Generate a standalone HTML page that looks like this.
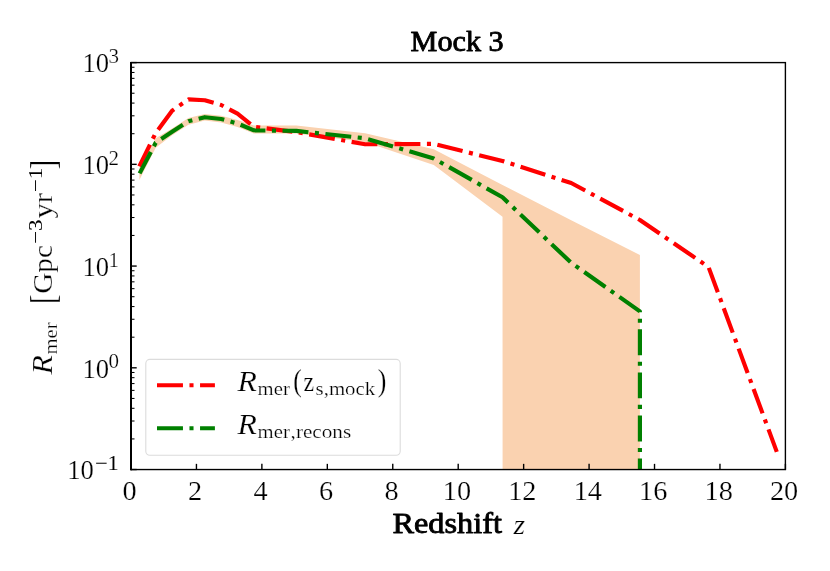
<!DOCTYPE html>
<html><head><meta charset="utf-8"><title>Mock 3</title>
<style>html,body{margin:0;padding:0;background:#fff;}svg{display:block;font-family:"Liberation Serif", serif;will-change:transform;}text{fill:#000;}text.t{stroke:#fff;stroke-width:0.24px;}</style></head><body>
<svg width="830" height="571" viewBox="0 0 830 571">
<rect x="0" y="0" width="830" height="571" fill="#ffffff"/>
<defs><clipPath id="ax"><rect x="131.0" y="62.6" width="654.4" height="406.95"/></clipPath></defs>
<g clip-path="url(#ax)">
<polygon points="139.40,168.00 155.70,138.30 172.10,128.50 188.45,118.00 204.80,113.90 221.15,115.70 237.50,120.00 253.90,125.60 296.40,125.60 365.10,133.30 433.80,149.20 502.50,185.00 571.20,220.30 639.90,255.00 639.90,480.00 502.60,480.00 502.50,216.70 433.80,165.00 365.10,142.00 296.40,133.60 253.90,133.40 237.50,126.90 221.15,122.40 204.80,120.60 188.45,124.70 172.10,135.20 155.70,147.80 139.40,180.00" fill="#fad2b0"/>
<polyline points="139.30,166.30 155.70,133.00 172.10,110.70 188.45,99.40 204.80,100.20 221.15,105.00 237.50,113.70 253.90,126.80 296.40,132.10 365.10,144.30 433.80,143.90 502.50,161.00 571.20,183.00 639.90,220.00 708.50,267.00 776.80,451.90" fill="none" stroke="#ff0000" stroke-width="4.15" stroke-dasharray="25.95 6.52 4.06 6.52" stroke-dashoffset="1.8" stroke-linejoin="round"/>
<polyline points="139.60,173.40 155.70,142.80 172.10,131.80 188.45,121.30 204.80,117.20 221.15,119.00 237.50,123.50 253.90,130.30 296.40,130.90 365.10,138.30 433.80,158.50 502.50,197.30 571.20,262.80 639.90,311.40 639.90,480.00" fill="none" stroke="#008000" stroke-width="4.15" stroke-dasharray="25.95 6.52 4.06 6.52" stroke-dashoffset="1.8" stroke-linejoin="round"/>
</g>
<line x1="131.00" y1="469.55" x2="131.00" y2="463.85" stroke="#000" stroke-width="1.39"/><line x1="196.44" y1="469.55" x2="196.44" y2="463.85" stroke="#000" stroke-width="1.39"/><line x1="261.88" y1="469.55" x2="261.88" y2="463.85" stroke="#000" stroke-width="1.39"/><line x1="327.32" y1="469.55" x2="327.32" y2="463.85" stroke="#000" stroke-width="1.39"/><line x1="392.76" y1="469.55" x2="392.76" y2="463.85" stroke="#000" stroke-width="1.39"/><line x1="458.20" y1="469.55" x2="458.20" y2="463.85" stroke="#000" stroke-width="1.39"/><line x1="523.64" y1="469.55" x2="523.64" y2="463.85" stroke="#000" stroke-width="1.39"/><line x1="589.08" y1="469.55" x2="589.08" y2="463.85" stroke="#000" stroke-width="1.39"/><line x1="654.52" y1="469.55" x2="654.52" y2="463.85" stroke="#000" stroke-width="1.39"/><line x1="719.96" y1="469.55" x2="719.96" y2="463.85" stroke="#000" stroke-width="1.39"/><line x1="785.40" y1="469.55" x2="785.40" y2="463.85" stroke="#000" stroke-width="1.39"/><line x1="131.0" y1="469.55" x2="136.70" y2="469.55" stroke="#000" stroke-width="1.39"/><line x1="131.0" y1="438.92" x2="134.50" y2="438.92" stroke="#000" stroke-width="1.05"/><line x1="131.0" y1="421.01" x2="134.50" y2="421.01" stroke="#000" stroke-width="1.05"/><line x1="131.0" y1="408.30" x2="134.50" y2="408.30" stroke="#000" stroke-width="1.05"/><line x1="131.0" y1="398.44" x2="134.50" y2="398.44" stroke="#000" stroke-width="1.05"/><line x1="131.0" y1="390.38" x2="134.50" y2="390.38" stroke="#000" stroke-width="1.05"/><line x1="131.0" y1="383.57" x2="134.50" y2="383.57" stroke="#000" stroke-width="1.05"/><line x1="131.0" y1="377.67" x2="134.50" y2="377.67" stroke="#000" stroke-width="1.05"/><line x1="131.0" y1="372.47" x2="134.50" y2="372.47" stroke="#000" stroke-width="1.05"/><line x1="131.0" y1="367.81" x2="136.70" y2="367.81" stroke="#000" stroke-width="1.39"/><line x1="131.0" y1="337.19" x2="134.50" y2="337.19" stroke="#000" stroke-width="1.05"/><line x1="131.0" y1="319.27" x2="134.50" y2="319.27" stroke="#000" stroke-width="1.05"/><line x1="131.0" y1="306.56" x2="134.50" y2="306.56" stroke="#000" stroke-width="1.05"/><line x1="131.0" y1="296.70" x2="134.50" y2="296.70" stroke="#000" stroke-width="1.05"/><line x1="131.0" y1="288.65" x2="134.50" y2="288.65" stroke="#000" stroke-width="1.05"/><line x1="131.0" y1="281.83" x2="134.50" y2="281.83" stroke="#000" stroke-width="1.05"/><line x1="131.0" y1="275.93" x2="134.50" y2="275.93" stroke="#000" stroke-width="1.05"/><line x1="131.0" y1="270.73" x2="134.50" y2="270.73" stroke="#000" stroke-width="1.05"/><line x1="131.0" y1="266.07" x2="136.70" y2="266.07" stroke="#000" stroke-width="1.39"/><line x1="131.0" y1="235.45" x2="134.50" y2="235.45" stroke="#000" stroke-width="1.05"/><line x1="131.0" y1="217.53" x2="134.50" y2="217.53" stroke="#000" stroke-width="1.05"/><line x1="131.0" y1="204.82" x2="134.50" y2="204.82" stroke="#000" stroke-width="1.05"/><line x1="131.0" y1="194.96" x2="134.50" y2="194.96" stroke="#000" stroke-width="1.05"/><line x1="131.0" y1="186.91" x2="134.50" y2="186.91" stroke="#000" stroke-width="1.05"/><line x1="131.0" y1="180.10" x2="134.50" y2="180.10" stroke="#000" stroke-width="1.05"/><line x1="131.0" y1="174.20" x2="134.50" y2="174.20" stroke="#000" stroke-width="1.05"/><line x1="131.0" y1="168.99" x2="134.50" y2="168.99" stroke="#000" stroke-width="1.05"/><line x1="131.0" y1="164.34" x2="136.70" y2="164.34" stroke="#000" stroke-width="1.39"/><line x1="131.0" y1="133.71" x2="134.50" y2="133.71" stroke="#000" stroke-width="1.05"/><line x1="131.0" y1="115.80" x2="134.50" y2="115.80" stroke="#000" stroke-width="1.05"/><line x1="131.0" y1="103.09" x2="134.50" y2="103.09" stroke="#000" stroke-width="1.05"/><line x1="131.0" y1="93.23" x2="134.50" y2="93.23" stroke="#000" stroke-width="1.05"/><line x1="131.0" y1="85.17" x2="134.50" y2="85.17" stroke="#000" stroke-width="1.05"/><line x1="131.0" y1="78.36" x2="134.50" y2="78.36" stroke="#000" stroke-width="1.05"/><line x1="131.0" y1="72.46" x2="134.50" y2="72.46" stroke="#000" stroke-width="1.05"/><line x1="131.0" y1="67.26" x2="134.50" y2="67.26" stroke="#000" stroke-width="1.05"/><line x1="131.0" y1="62.60" x2="136.70" y2="62.60" stroke="#000" stroke-width="1.39"/>
<rect x="131.0" y="62.6" width="654.40" height="406.95" fill="none" stroke="#000" stroke-width="1.39"/>
<line x1="131" y1="61.90" x2="131" y2="470.25" stroke="#000" stroke-width="2"/>
<rect x="145.8" y="359.4" width="254.4" height="95.9" rx="4" ry="4" fill="#ffffff" fill-opacity="0.8" stroke="#dcdcdc" stroke-width="1.1"/>
<line x1="157.0" y1="385.2" x2="214.9" y2="385.2" stroke="#ff0000" stroke-width="4.15" stroke-dasharray="25.95 6.52 4.06 6.52"/>
<line x1="157.0" y1="428.2" x2="214.9" y2="428.2" stroke="#008000" stroke-width="4.15" stroke-dasharray="25.95 6.52 4.06 6.52"/>
<text x="237.6" y="390.7" font-size="30" text-anchor="start" class="t" font-style="italic" textLength="19.4" lengthAdjust="spacingAndGlyphs">R</text>
<text x="257.6" y="394.9" font-size="19.5" text-anchor="start" class="t" textLength="32.2" lengthAdjust="spacingAndGlyphs">mer</text>
<text x="237.6" y="433.7" font-size="30" text-anchor="start" class="t" font-style="italic" textLength="19.4" lengthAdjust="spacingAndGlyphs">R</text>
<text x="257.6" y="437.9" font-size="19.5" text-anchor="start" class="t" textLength="32.2" lengthAdjust="spacingAndGlyphs">mer</text>
<text x="293.2" y="391.2" font-size="32" text-anchor="start" class="t" textLength="8.6" lengthAdjust="spacingAndGlyphs">(</text>
<text x="303.4" y="390.7" font-size="27.8" text-anchor="start" class="t" textLength="10.6" lengthAdjust="spacingAndGlyphs">z</text>
<text x="315.6" y="394.9" font-size="19.5" text-anchor="start" class="t" textLength="59.6" lengthAdjust="spacingAndGlyphs">s,mock</text>
<text x="377.8" y="391.2" font-size="32" text-anchor="start" class="t" textLength="8.6" lengthAdjust="spacingAndGlyphs">)</text>
<text x="290.6" y="437.9" font-size="19.5" text-anchor="start" class="t" textLength="60.6" lengthAdjust="spacingAndGlyphs">,recons</text>
<text x="410.6" y="51.2" font-size="29.8" text-anchor="start" textLength="93.0" lengthAdjust="spacingAndGlyphs" stroke="#000" stroke-width="0.85" stroke-linejoin="round">Mock 3</text>
<text x="392.4" y="533.4" font-size="29.8" text-anchor="start" textLength="109.6" lengthAdjust="spacingAndGlyphs" stroke="#000" stroke-width="0.85" stroke-linejoin="round">Redshift</text>
<text x="513.4" y="533.6" font-size="27.6" text-anchor="start" class="t" font-style="italic" textLength="11.6" lengthAdjust="spacingAndGlyphs">z</text>
<text x="129.70" y="500.0" font-size="28.3" text-anchor="middle" class="t">0</text>
<text x="195.14" y="500.0" font-size="28.3" text-anchor="middle" class="t">2</text>
<text x="260.58" y="500.0" font-size="28.3" text-anchor="middle" class="t">4</text>
<text x="326.02" y="500.0" font-size="28.3" text-anchor="middle" class="t">6</text>
<text x="391.46" y="500.0" font-size="28.3" text-anchor="middle" class="t">8</text>
<text x="456.90" y="500.0" font-size="28.3" text-anchor="middle" class="t">10</text>
<text x="522.34" y="500.0" font-size="28.3" text-anchor="middle" class="t">12</text>
<text x="587.78" y="500.0" font-size="28.3" text-anchor="middle" class="t">14</text>
<text x="653.22" y="500.0" font-size="28.3" text-anchor="middle" class="t">16</text>
<text x="718.66" y="500.0" font-size="28.3" text-anchor="middle" class="t">18</text>
<text x="784.10" y="500.0" font-size="28.3" text-anchor="middle" class="t">20</text>
<text x="67.2" y="479.25" font-size="28.3" text-anchor="start" class="t" textLength="26.6" lengthAdjust="spacingAndGlyphs">10</text>
<text x="94.9" y="470.15" font-size="21" text-anchor="start" textLength="24.0" lengthAdjust="spacingAndGlyphs">−1</text>
<text x="82.5" y="377.51" font-size="28.3" text-anchor="start" class="t" textLength="26.6" lengthAdjust="spacingAndGlyphs">10</text>
<text x="108.4" y="368.41" font-size="21" text-anchor="start" class="t">0</text>
<text x="82.5" y="275.77" font-size="28.3" text-anchor="start" class="t" textLength="26.6" lengthAdjust="spacingAndGlyphs">10</text>
<text x="108.4" y="266.67" font-size="21" text-anchor="start" class="t">1</text>
<text x="82.5" y="174.04" font-size="28.3" text-anchor="start" class="t" textLength="26.6" lengthAdjust="spacingAndGlyphs">10</text>
<text x="108.4" y="164.94" font-size="21" text-anchor="start" class="t">2</text>
<text x="82.5" y="72.30" font-size="28.3" text-anchor="start" class="t" textLength="26.6" lengthAdjust="spacingAndGlyphs">10</text>
<text x="108.4" y="63.20" font-size="21" text-anchor="start" class="t">3</text>
<g transform="translate(52.3 382.6) rotate(-90)">
<text x="8.0" y="0" font-size="30" text-anchor="start" class="t" font-style="italic" textLength="19.4" lengthAdjust="spacingAndGlyphs">R</text>
<text x="28.0" y="4.2" font-size="19.5" text-anchor="start" class="t" textLength="32.2" lengthAdjust="spacingAndGlyphs">mer</text>
<text x="78.6" y="2.2" font-size="35.2" text-anchor="start" class="t" textLength="9.4" lengthAdjust="spacingAndGlyphs">[</text>
<text x="88.8" y="0" font-size="27.8" text-anchor="start" class="t" textLength="48.8" lengthAdjust="spacingAndGlyphs">Gpc</text>
<text x="138.6" y="-10.0" font-size="19.5" text-anchor="start" textLength="24.6" lengthAdjust="spacingAndGlyphs">−3</text>
<text x="164.0" y="0" font-size="27.8" text-anchor="start" class="t" textLength="25.4" lengthAdjust="spacingAndGlyphs">yr</text>
<text x="190.4" y="-10.0" font-size="19.5" text-anchor="start" textLength="24.6" lengthAdjust="spacingAndGlyphs">−1</text>
<text x="213.4" y="2.2" font-size="35.2" text-anchor="start" class="t" textLength="9.4" lengthAdjust="spacingAndGlyphs">]</text>
</g>
</svg></body></html>
